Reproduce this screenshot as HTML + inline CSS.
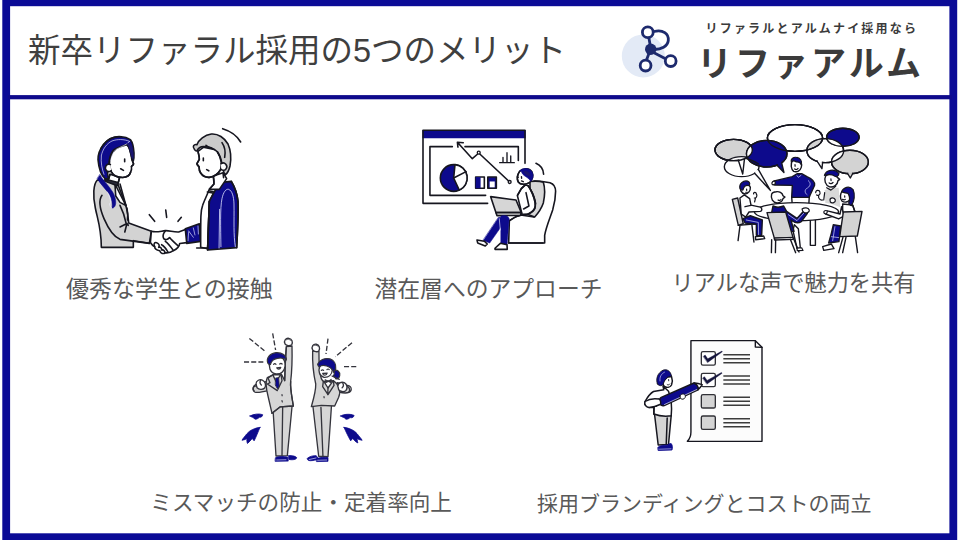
<!DOCTYPE html>
<html lang="ja"><head><meta charset="utf-8"><title>新卒リファラル採用の5つのメリット</title>
<style>
html,body{margin:0;padding:0;background:#fff}
body{width:960px;height:540px;overflow:hidden;position:relative;font-family:"Liberation Sans","Noto Sans CJK JP",sans-serif}
#art{position:absolute;left:0;top:0;width:960px;height:540px;display:block}
.tx{position:absolute;margin:0;padding:0;font-weight:400;line-height:1;white-space:nowrap;color:#595959;overflow:visible;font-family:"Liberation Sans","Noto Sans CJK JP",sans-serif}
</style></head><body>
<svg id="art" width="960" height="540" viewBox="0 0 960 540">
<rect x="0" y="0" width="960" height="540" fill="#fff"/>
<rect x="6.2" y="2.3" width="947.1" height="534.9" fill="#fff" stroke="#0b0b96" stroke-width="7.8"/>
<rect x="8" y="95.1" width="944" height="4.2" fill="#0e0a8c"/>
<g id="texts">
</g>
<g id="logo">
<circle cx="643.3" cy="55.9" r="21.5" fill="#e3eaf6"/>
<g fill="none" stroke="#1d2a6d" stroke-width="2.8" stroke-linecap="round">
<path d="M649,38.5 L650.5,47"/>
<path d="M649.5,52 L646.5,60"/>
<path d="M653.5,52.5 L666,59"/>
<path d="M654,31.5 C663,29 669,34 668.3,40.5 C667.6,46.5 661,49.5 654.5,49.5"/>
<circle cx="647.8" cy="32.2" r="5.4" fill="#fff"/>
<circle cx="645.6" cy="65.6" r="5.4" fill="#fff"/>
<circle cx="670.7" cy="61.1" r="5.4" fill="#fff"/>
</g>
<circle cx="650.7" cy="49.3" r="5.7" fill="#1d2a6d"/>
</g>
<g id="ill1"><g stroke-linecap="round" stroke-linejoin="round" fill="none" stroke="#16161f">
<!-- ===== woman body (view C: origin 80,188 scale 7.5) ===== -->
<g transform="translate(80,188) scale(0.133333)" stroke-width="12">
<path fill="#d3d3d3" d="M130,-60 C100,-30 95,60 115,150 C130,230 160,300 160,445 L400,445 L400,395 L520,415 L535,325 L365,262 C360,200 350,150 340,120 L280,-40 Z"/>
<path d="M165,55 C140,90 150,160 180,230 C210,300 250,365 300,385 L520,415"/>
<path d="M300,292 L352,266 M336,330 L352,266 L362,280 M300,130 C320,170 335,210 345,262 M352,150 C358,180 360,215 356,240"/>
<path fill="#fff" d="M262,-30 L345,132 L300,108 L268,60 Z"/>
<path d="M300,-30 L345,132"/>
<path fill="#0d0a8c" stroke="#0d0a8c" stroke-width="4" d="M150,-100 C170,-60 215,-20 245,30 C262,60 270,90 268,115 C266,138 255,150 240,152 C245,120 240,80 222,50 C200,15 160,-20 130,-70 Z"/>
<path stroke="#eef" stroke-width="5" d="M222,118 C224,135 230,148 240,152 M205,30 C220,55 230,85 230,115"/>
<!-- sparks -->
<path d="M520,200 L560,250 M643,165 L650,220 M760,220 L735,250"/>
<!-- man's sleeve -->
<path fill="#0d0a8c" d="M790,305 L895,268 L905,400 L800,415 Z"/>
<path stroke="#dfe2ff" stroke-width="5" d="M815,330 L810,395 M815,322 L850,370 M850,300 L862,352 M885,285 L888,345"/>
<!-- hands -->
<path fill="#fff" d="M535,325 C570,335 600,325 640,320 C670,318 700,332 740,330 L790,312 L800,410 L748,416 C745,440 720,462 700,470 C685,482 660,488 640,486 C625,497 605,492 598,470 C575,465 560,450 560,440 C540,432 535,418 528,408 Z"/>
<path d="M640,322 C625,340 620,365 628,380 C640,392 660,388 672,372 C690,395 715,415 735,432 M640,400 C655,410 680,440 700,468 M612,425 C625,430 650,460 660,482 M560,440 C548,420 560,405 575,410 C590,415 600,430 590,445 C600,440 615,450 612,465 C625,462 640,472 636,486"/>
</g>
<!-- ===== man body (view D: origin 150,188 scale 7.5) ===== -->
<g transform="translate(150,188) scale(0.133333)" stroke-width="12">
<path fill="#fff" d="M440,20 C425,60 405,100 395,130 C380,170 380,200 380,445 L432,455 L445,100 L480,30 Z"/>
<path d="M350,450 L432,450"/>
<path fill="#0d0a8c" d="M520,-40 L445,100 L432,465 L650,447 C655,350 665,200 660,100 C655,50 640,0 610,-50 Z"/>
<path stroke="#dfe2ff" stroke-width="6" d="M522,160 L518,450 M532,440 C530,300 525,150 540,80 C550,30 570,5 590,10 C615,20 628,60 630,120 C632,250 625,350 640,440"/>
<path d="M610,-50 C640,0 655,50 660,100 C665,200 655,350 650,447 M445,100 L432,465"/>
<path d="M430,30 L470,38"/>
</g>
<!-- ===== woman head (view A: origin 80,125 scale 7.5) ===== -->
<g transform="translate(80,125) scale(0.133333)" stroke-width="12">
<path fill="#fff" d="M225,370 L210,420 L285,440 L297,392 Z"/>
<path d="M225,370 L212,410 M297,392 L288,430"/>
<path fill="#2a2a3a" d="M185,405 L285,432 L280,455 L200,425 Z"/>
<path fill="#fff" d="M350,140 C375,170 385,220 388,255 L402,292 C400,302 392,306 386,310 C388,325 384,345 380,352 C372,380 350,392 320,394 C285,394 250,380 232,348 L220,290 C225,230 250,180 300,160 Z"/>
<path fill="#0d0a8c" d="M190,405 C160,380 140,320 135,260 C135,220 150,180 175,150 C200,115 240,90 285,88 C320,86 355,92 380,112 C395,130 402,165 405,210 C406,235 404,255 400,268 C390,250 382,225 375,195 C370,170 360,152 345,148 C320,160 285,165 255,185 C235,205 225,235 220,265 C215,285 215,300 212,318 C205,345 205,375 215,400 Z"/>
<path stroke="#e8eaff" stroke-width="5" d="M160,230 C170,180 200,140 240,120 C280,105 330,105 370,122 M372,124 C350,150 300,165 268,185 C245,205 235,240 230,270 M160,235 C155,280 165,330 180,370"/>
<path fill="#1a1670" stroke="none" d="M350,140 C370,130 395,150 400,200 C403,230 402,255 398,268 C385,245 378,215 372,190 C368,168 360,150 350,140 Z"/>
<path fill="#fff" d="M228,296 C200,284 178,320 198,342 C208,352 224,350 234,342"/>
<path d="M335,255 L335,276 M305,328 L326,340 M388,255 L402,292 C400,302 392,306 386,310 M380,352 C372,380 350,392 320,394 C285,394 250,380 235,352"/>
<path stroke-width="10" d="M155,178 C175,140 215,100 262,90 C280,86 300,86 312,88"/>
</g>
<!-- ===== man head (view B: origin 150,120 scale 7.5) ===== -->
<g transform="translate(150,120) scale(0.133333)" stroke-width="12">
<path fill="#fff" d="M475,420 L480,480 L445,520 L520,520 L575,440 L548,395 Z"/>
<path d="M475,425 C480,450 482,470 478,482 L445,520 M548,400 L552,432"/>
<path fill="#fff" d="M360,235 C365,260 372,280 370,295 L352,328 C355,340 365,345 368,352 C368,370 372,385 380,398 C395,420 420,432 445,430 C480,425 515,400 530,370 L540,300 L500,225 L400,205 Z"/>
<path fill="#cbcbcb" d="M332,218 C315,200 330,178 352,185 C365,150 410,112 460,105 C510,100 560,135 585,180 C605,225 610,290 600,345 C592,380 580,400 565,412 C555,400 550,385 548,368 C540,360 538,345 540,330 C535,300 525,265 505,238 C480,215 440,200 400,200 C380,200 362,210 352,232 C345,235 338,228 332,218 Z"/>
<path d="M540,170 C560,200 568,240 560,280 M505,238 C520,260 530,290 535,320 M420,190 C430,200 445,210 460,212"/>
<path fill="#fff" d="M532,328 C560,308 590,345 568,370 C558,380 542,378 534,370"/>
<path d="M400,285 L400,306 M425,372 L441,381"/>
<path d="M360,235 C365,260 372,280 370,295 L352,328 C355,340 365,345 368,352 C368,370 372,385 380,398 C395,420 420,432 445,430 C480,425 510,405 528,375"/>
<path d="M545,65 C610,85 655,120 680,165"/>
</g>
</g>
</g>
<g id="ill2"><g stroke-linecap="round" stroke-linejoin="round" fill="none" stroke="#16161f">
<!-- screen (view A: origin 415,122) -->
<g transform="translate(415,122) scale(0.133333)" stroke-width="12">
<path fill="#0d0a8c" stroke="none" d="M56,60 H830 V122 H56 Z"/>
<path d="M60,62 V610 H545 M825,62 V310 M60,62 H825"/>
<path d="M280,185 H112 V550 H530 M375,185 H775 V288"/>
<path d="M710,450 L486,240 M470,240 L430,275 L318,152 M318,152 L362,156 M318,152 L322,188"/>
<circle cx="478" cy="230" r="11" fill="#fff" stroke-width="10"/>
<circle cx="710" cy="450" r="11" fill="#fff" stroke-width="10"/>
<path stroke-width="10" d="M635,305 H745 M660,305 V265 M690,305 V230 M718,305 V255"/>
<circle cx="290" cy="420" r="100" fill="#0d0a8c"/>
<path fill="#fff" d="M290,420 L300,320 A100,100 0 0 1 332,511 Z"/>
<path d="M290,420 L383,372"/>
<path fill="#fff" d="M455,413 H520 V497 H455 Z"/>
<path fill="#0d0a8c" stroke="none" d="M455,413 H492 V497 H455 Z"/>
<path fill="#0d0a8c" d="M546,413 H610 V497 H546 Z"/>
<path fill="#fff" stroke="none" d="M560,446 H598 V490 H560 Z"/>
</g>
<!-- chair + body (view C: origin 490,150) -->
<g transform="translate(490,150) scale(0.133333)" stroke-width="12">
<path fill="#fff" d="M330,232 C370,232 420,238 450,245 C480,255 492,280 492,310 C492,360 485,400 470,450 C450,510 420,580 410,640 L410,697 L140,697 L145,530 C170,510 200,495 230,488 L330,502 Z"/>
<path fill="#d6d6d6" d="M300,236 C340,232 380,235 400,242 C412,280 412,340 400,397 C385,440 360,475 335,502 L280,482 C310,460 340,430 342,400 C335,360 320,320 300,290 Z"/>
<path fill="#fff" d="M262,262 L235,290 L205,340 L240,480 L282,482 C310,470 332,455 336,440 C345,410 335,370 320,330 L300,290 L285,266 Z"/>
<path d="M262,265 L235,290 L208,338 M285,268 L300,290 C320,330 345,380 340,420 C335,450 310,470 285,482"/>
<path d="M270,320 L292,420 L252,442"/>
<path d="M150,528 C175,510 200,495 235,488 L285,483"/>
<!-- laptop -->
<path fill="#d6d6d6" d="M5,350 L195,375 L235,470 L45,470 Z"/>
<path fill="#d6d6d6" d="M45,470 L235,470 L228,490 L52,492 Z"/>
<!-- motion -->
<path d="M345,100 C380,115 400,145 402,182"/>
<!-- head -->
<path fill="#fff" d="M222,160 C205,185 200,215 212,240 C228,262 265,262 295,245 C320,225 328,190 315,165 C300,138 250,130 222,160 Z"/>
<path fill="#0d0a8c" stroke="#0d0a8c" stroke-width="5" d="M222,158 C245,132 290,132 312,160 C328,185 325,215 305,235 C300,220 285,212 270,200 C250,190 238,175 235,160 Z"/>
<path fill="#1a1670" stroke="none" d="M250,160 C270,150 300,165 305,195 C290,200 265,190 250,160 Z"/>
<path stroke-width="10" d="M222,160 C205,185 200,215 212,240 C228,262 265,262 295,245 M236,200 L237,212 M236,232 L250,238 M205,195 L212,205"/>
</g>
<!-- legs (view B: origin 415,190) -->
<g transform="translate(415,190) scale(0.133333)" stroke-width="12">
<path fill="#0d0a8c" stroke="#0d0a8c" stroke-width="4" d="M628,205 L692,210 L560,398 L512,378 Z"/>
<path fill="#0d0a8c" stroke="#0d0a8c" stroke-width="4" d="M645,195 C670,185 700,195 706,215 L690,412 L645,402 Z"/>
<path stroke="#e6e8ff" stroke-width="5" d="M632,215 L640,300"/>
<path fill="#fff" d="M465,375 L520,384 L542,405 L527,420 L470,397 Z"/>
<path fill="#fff" d="M600,437 L640,400 L690,410 L692,445 L600,445 Z"/>
<path d="M700,398 H960"/>
</g>
</g>
</g>
<g id="ill3"><defs>
<clipPath id="cE3"><ellipse cx="463" cy="268" rx="152" ry="100"/></clipPath>
<clipPath id="cE4"><ellipse cx="675" cy="150" rx="207" ry="100"/></clipPath>
<clipPath id="cE5"><ellipse cx="902" cy="245" rx="138" ry="90"/></clipPath>
</defs>
<g stroke-linecap="round" stroke-linejoin="round" fill="none" stroke="#16161f">
<!-- bubbles (view 3A: origin 705,118) -->
<g transform="translate(705,118) scale(0.133333)" stroke-width="10.5">
<ellipse cx="215" cy="240" rx="140" ry="80" fill="#d3d3d3"/>
<ellipse cx="275" cy="365" rx="130" ry="75" fill="#fff"/>
<path fill="#fff" d="M372,415 L490,543 L400,386"/>
<path stroke="#fff" stroke-width="13" stroke-linecap="butt" d="M378,408 L396,394"/>
<ellipse cx="215" cy="240" rx="140" ry="80"/>
<path fill="#fff" d="M250,317 L283,420 L296,306"/>
<path stroke="#fff" stroke-width="13" stroke-linecap="butt" d="M258,314 L290,307"/>
<ellipse cx="675" cy="150" rx="207" ry="100" fill="#fff"/>
<ellipse cx="902" cy="245" rx="138" ry="90" fill="#fff"/>
<ellipse cx="902" cy="245" rx="138" ry="90" fill="#d3d3d3" stroke="none" clip-path="url(#cE4)"/>
<ellipse cx="1034" cy="145" rx="122" ry="68" fill="#0d0a8c"/>
<ellipse cx="1087" cy="330" rx="138" ry="88" fill="#d3d3d3"/>
<ellipse cx="1034" cy="145" rx="122" ry="68" fill="#fff" stroke="none" clip-path="url(#cE5)"/>
<ellipse cx="1087" cy="330" rx="138" ry="88" fill="#fff" stroke="none" clip-path="url(#cE5)"/>
<ellipse cx="1034" cy="145" rx="122" ry="68"/>
<ellipse cx="1087" cy="330" rx="138" ry="88"/>
<ellipse cx="902" cy="245" rx="138" ry="90"/>
<ellipse cx="675" cy="150" rx="207" ry="100"/>
<path fill="#fff" d="M842,326 L877,380 L882,334"/>
<path stroke="#fff" stroke-width="13" stroke-linecap="butt" d="M849,323 L876,328"/>
<path fill="#d3d3d3" d="M1070,417 L1090,450 L1108,416"/>
<path stroke="#d3d3d3" stroke-width="13" stroke-linecap="butt" d="M1077,413 L1102,412"/>
<ellipse cx="463" cy="268" rx="152" ry="100" fill="#0d0a8c"/>
<ellipse cx="215" cy="240" rx="140" ry="80" fill="#fff" stroke="none" clip-path="url(#cE3)"/>
<ellipse cx="215" cy="240" rx="140" ry="80"/>
<ellipse cx="675" cy="150" rx="207" ry="100"/>
<ellipse cx="463" cy="268" rx="152" ry="100"/>
<path fill="#0d0a8c" d="M540,354 L592,408 L575,336"/>
<path stroke="#0d0a8c" stroke-width="13" stroke-linecap="butt" d="M546,346 L570,333"/>
<path d="M302,300 C330,310 370,325 402,345"/>
<!-- standing man -->
<path fill="#fff" d="M650,590 L782,590 L778,660 L655,660 Z"/>
<path fill="#fff" d="M655,320 C640,345 645,385 665,400 C690,410 715,395 722,370 C730,345 720,320 700,310 Z"/>
<path fill="#0d0a8c" stroke-width="9" d="M648,330 C640,305 665,290 690,296 C715,300 730,325 722,350 C715,335 700,328 685,330 C670,318 655,322 648,330 Z"/>
<path stroke-width="9" d="M675,350 L676,362 M672,382 C680,388 692,386 698,378"/>
<path fill="#0d0a8c" d="M690,418 L655,440 L520,472 C505,478 505,498 520,502 L655,505 L650,595 L782,595 C790,570 805,545 822,505 C825,480 800,455 765,440 L725,418 Z"/>
<path stroke="#dfe2ff" stroke-width="5" d="M775,470 C800,490 790,515 760,530 C745,545 750,565 765,575 M720,430 L700,445 L690,432"/>
<path fill="#fff" stroke-width="9" d="M522,472 C500,475 495,495 510,502 C520,500 530,495 528,485 Z"/>
</g>
<!-- bottom-left (view 3C: origin 705,180) -->
<g transform="translate(705,180) scale(0.133333)" stroke-width="10.5">
<!-- left chair -->
<path fill="#d3d3d3" d="M205,145 L245,135 L287,328 L250,340 Z"/>
<path d="M250,340 L385,328 M262,345 L248,455 M352,338 L367,465"/>
<!-- left person legs -->
<path fill="#0d0a8c" d="M285,290 L340,268 L430,300 L425,415 L385,415 L385,332 L300,322 Z"/>
<path stroke="#dfe2ff" stroke-width="5" d="M310,300 L400,318 L402,410"/>
<path fill="#fff" d="M378,425 L440,420 L448,440 L380,448 Z"/>
<!-- table -->
<path fill="#fff" d="M790,300 V490 H828 V300"/>
<ellipse cx="686" cy="238" rx="316" ry="68" fill="#fff"/>
<!-- left person torso -->
<path fill="#fff" d="M262,135 L295,112 L335,140 L345,188 L415,203 C430,210 430,232 415,235 L330,240 L305,278 L272,255 Z"/>
<path d="M345,190 L300,200"/>
<path fill="#fff" d="M268,40 C258,70 270,100 300,105 C325,105 342,80 340,55 C335,30 290,15 268,40 Z"/>
<path fill="#0d0a8c" stroke-width="9" d="M262,60 C255,30 285,0 320,8 C340,15 340,40 325,42 C310,35 290,45 285,75 C275,78 265,72 262,60 Z"/>
<path stroke-width="9" d="M312,68 L313,78 M305,92 L318,92"/>
<path stroke-width="9" d="M365,105 C360,90 385,88 385,105 C395,115 385,140 370,135 M378,140 L372,165"/>
<!-- right-back person (gray shirt) hands & standing man pants already -->
<!-- front person -->
<path fill="#fff" d="M670,335 L700,365 L715,510 L690,512 L660,380 Z"/>
<path fill="#fff" d="M500,105 C490,140 510,170 540,172 C560,172 580,160 585,140 L600,128 L585,118 C580,95 555,85 535,88 C520,88 505,95 500,105 Z"/>
<path stroke-width="9" d="M548,150 C556,156 566,154 570,146"/>
<path fill="#0d0a8c" d="M510,195 C530,205 565,205 590,195 L612,235 L690,288 L735,238 L768,250 L722,312 C700,325 670,320 645,300 L668,385 L610,385 L560,245 L500,245 Z"/>
<path stroke="#dfe2ff" stroke-width="5" d="M625,260 L690,305 L740,250"/>
<path fill="#fff" stroke-width="9" d="M728,218 C745,205 775,205 782,225 C785,240 765,250 745,246 C735,240 728,230 728,218 Z"/>
<path fill="#d3d3d3" d="M465,245 L605,240 L660,430 L520,436 Z"/>
<path fill="#fff" d="M520,436 L660,430 L662,445 L522,450 Z"/>
<path d="M500,448 L498,545 M530,450 L528,545 M640,445 L680,545 M665,440 L705,540"/>
<path fill="#fff" stroke-width="9" d="M690,512 L725,508 L735,528 L692,530 Z"/>
</g>
<!-- bottom-right (view 3D: origin 800,180) -->
<g transform="translate(800,180) scale(0.133333)" stroke-width="10.5">
<!-- gray shirt person -->
<path fill="#d8d8d8" stroke="none" d="M185,75 L235,62 L290,58 L302,205 L240,180 L190,172 Z"/>
<path fill="#fff" d="M192,-30 C178,0 190,40 222,52 C255,58 282,35 285,5 L298,-5 L282,-18 C270,-45 215,-55 192,-30 Z"/>
<path fill="#0d0a8c" stroke-width="9" d="M183,-35 C195,-75 255,-90 292,-50 C290,-30 275,-22 262,-28 C240,-45 205,-40 183,-35 Z"/>
<path stroke-width="9" d="M232,-8 L233,4 M218,22 C226,30 242,28 248,18 M200,58 L232,76 L268,48"/>
<path stroke-width="9" fill="#fff" d="M118,95 C115,75 145,72 150,92 C155,110 135,120 125,112 M140,118 C135,135 150,155 170,150"/>
<path stroke-width="9" fill="#fff" d="M225,150 C225,130 260,128 265,150 C268,170 240,178 228,165 Z"/>
<path stroke-width="9" d="M185,95 L178,150"/>
<!-- right woman -->
<path fill="#fff" d="M320,180 L395,188 L412,238 L320,245 Z"/>
<path fill="#fff" d="M318,85 C300,100 298,140 315,158 C335,172 360,165 372,150 L375,95 Z"/>
<path fill="#0d0a8c" stroke-width="9" d="M312,88 C325,55 370,40 398,72 C415,110 408,160 385,192 C375,188 368,180 365,172 C375,150 372,120 360,100 C345,98 325,95 312,88 Z"/>
<path stroke-width="9" d="M335,118 L336,128 M318,145 C325,150 335,150 340,145"/>
<path fill="#fff" d="M312,200 L300,255 L205,232 C190,228 180,245 192,255 L290,292 L330,270 Z"/>
<path fill="#fff" stroke-width="9" d="M205,232 C185,222 170,240 185,252 C195,258 205,250 205,232 Z"/>
<!-- legs -->
<path fill="#0d0a8c" d="M250,335 L305,345 L292,462 L215,472 L235,400 Z"/>
<path stroke="#dfe2ff" stroke-width="5" d="M262,350 L245,455 M235,425 L290,432"/>
<path fill="#fff" d="M170,500 L235,480 L255,515 L178,528 Z"/>
<!-- chair -->
<path fill="#d3d3d3" d="M325,240 L465,235 L430,420 L298,425 Z"/>
<path d="M322,430 L290,545 M345,430 L320,545 M415,425 L432,545"/>
<path d="M395,190 L410,232"/>
</g>
</g>
</g>
<g id="ill4"><g stroke-linecap="round" stroke-linejoin="round" fill="none" stroke="#34343c">
<!-- legs (view 4B: origin 236,396) -->
<g transform="translate(236,396) scale(0.133333)" stroke-width="10">
<path fill="#d6d6d6" d="M275,60 L300,450 L385,447 L422,60 Z"/>
<path d="M350,85 L345,447"/>
<path fill="#d6d6d6" d="M575,60 L620,452 L690,455 L717,60 Z"/>
<path d="M637,85 L652,452"/>
<g fill="#0d0a8c" stroke="#0d0a8c" stroke-width="6">
<path d="M298,462 C320,452 360,452 386,458 L392,488 L296,490 Z"/>
<path d="M395,447 C420,445 450,452 456,464 C452,476 425,482 398,476 Z"/>
<path d="M534,468 C550,452 585,445 602,448 L618,470 C590,485 560,488 545,484 Z"/>
<path d="M602,472 C630,458 670,458 690,462 L690,490 L606,492 Z"/>
<path d="M105,150 C130,135 175,130 200,140 C198,155 190,160 175,160 C165,170 150,178 140,172 C135,160 115,160 105,150 Z"/>
<path d="M180,235 C140,240 100,258 80,285 C65,305 50,320 45,332 C60,330 72,325 82,318 C80,335 82,348 86,356 C100,345 112,330 122,318 C128,326 132,332 136,336 C150,310 165,270 180,235 Z"/>
<path d="M785,150 C805,135 860,132 886,146 C882,160 870,166 855,162 C845,172 830,178 822,172 C815,160 795,160 785,150 Z"/>
<path d="M810,235 C850,240 890,258 910,285 C925,305 940,320 946,332 C930,330 918,325 908,318 C910,335 912,345 914,352 C898,345 885,330 875,318 C868,326 864,332 860,336 C845,310 825,270 810,235 Z"/>
</g>
<path stroke="#dfe2ff" stroke-width="5" d="M305,480 L375,478 M550,476 L600,465 M612,482 L680,480"/>
</g>
<!-- upper bodies (view 4A: origin 236,328) -->
<g transform="translate(236,328) scale(0.133333)" stroke-width="10">
<!-- rays -->
<path stroke-dasharray="38 16" stroke-linecap="butt" d="M100,78 L225,180 M275,40 L297,165 M60,255 L205,255 M690,80 L675,195 M870,110 L745,215 M810,290 L915,290"/>
<!-- man left arm/fist -->
<path fill="#d6d6d6" d="M240,470 C200,480 160,490 140,480 C125,470 125,450 135,440 L230,400 Z"/>
<!-- man body -->
<path fill="#d6d6d6" d="M365,395 C368,300 372,200 378,140 L420,135 C422,220 420,320 410,400 C405,450 420,520 430,585 L330,592 L270,640 L240,510 C225,450 220,400 235,372 L290,345 L340,345 Z"/>
<path d="M410,400 C405,450 420,520 430,585 L330,592 L270,640 M365,395 C368,300 372,200 378,140"/>
<path fill="#fff" d="M275,350 L300,400 L335,352 Z"/>
<path fill="#0d0a8c" stroke-width="6" d="M298,375 L320,372 L325,440 L310,455 L296,430 Z"/>
<path d="M270,355 L240,375 L255,410 L235,420 L310,470 M338,350 L345,395 L315,460"/>
<path stroke-width="9" d="M345,545 L347,555 M345,500 L346,508"/>
<!-- man head -->
<path fill="#fff" d="M255,250 C240,290 255,335 300,345 C340,348 365,320 368,285 C370,255 360,230 340,220 L275,225 Z"/>
<path fill="#0d0a8c" stroke-width="9" d="M238,262 C225,225 255,190 300,185 C345,182 380,205 378,240 C360,225 335,222 310,228 C285,232 265,245 258,275 C250,275 242,270 238,262 Z"/>
<path stroke-width="9" d="M282,272 C287,266 295,266 300,272 M328,270 C333,264 341,264 346,270 M305,298 C312,312 330,312 336,296 Z"/>
<!-- fists man -->
<path fill="#fff" stroke-width="10" d="M368,120 C355,95 375,72 398,78 C420,82 428,105 418,125 C405,135 380,135 368,120 Z"/>
<path stroke-width="6" d="M378,88 C388,82 400,84 408,92"/>
<path fill="#fff" stroke-width="10" d="M150,420 C150,395 180,380 200,392 C220,400 228,430 215,450 C200,465 170,462 158,448 Z"/>
<path stroke-width="10" d="M150,425 C130,430 122,455 135,470 M185,392 C178,405 180,420 190,428"/>
<!-- woman -->
<path fill="#d6d6d6" d="M770,480 C810,490 850,490 862,470 C868,455 860,440 850,435 L760,410 Z"/>
<path fill="#d6d6d6" d="M575,172 L622,176 C622,250 625,320 635,360 C640,385 650,398 660,402 L730,395 C770,420 790,470 770,520 L740,585 L640,580 L565,590 C585,520 600,470 598,420 C580,340 572,250 575,172 Z"/>
<path fill="#fff" d="M660,402 L690,450 L728,396 Z"/>
<path d="M655,400 L650,440 L690,500 L735,430 L730,396 M690,450 L688,500"/>
<path fill="#34343c" stroke-width="6" d="M670,388 L692,398 L715,385 L712,410 L692,402 L672,412 Z"/>
<path stroke-width="9" d="M660,515 L661,523"/>
<!-- woman head -->
<path fill="#fff" d="M628,290 C615,320 625,360 660,370 C695,372 720,350 722,315 L700,270 L650,265 Z"/>
<path fill="#0d0a8c" stroke-width="9" d="M612,272 C625,240 665,222 705,232 C735,240 752,270 748,305 C745,320 740,328 735,335 C725,310 705,292 680,285 C660,278 640,278 625,292 C618,288 613,280 612,272 Z"/>
<path fill="#0d0a8c" stroke-width="9" d="M738,318 C760,312 782,330 778,355 C776,372 765,385 750,382 C745,372 738,365 728,362 C738,350 740,335 738,318 Z"/>
<path stroke-width="9" d="M640,318 C645,312 652,312 657,318 M682,312 C687,306 694,306 699,312 M650,340 C655,358 678,358 684,338 Z M720,360 L775,385"/>
<path fill="#fff" stroke-width="10" d="M575,165 C562,140 580,118 602,122 C625,126 632,150 622,170 C610,182 588,180 575,165 Z"/>
<path stroke-width="6" d="M584,132 C594,126 606,128 614,136"/>
<path fill="#fff" stroke-width="10" d="M765,440 C760,415 790,400 812,410 C832,420 840,450 825,468 C810,482 780,478 770,462 Z"/>
<path stroke-width="10" d="M835,440 C852,445 858,468 845,482 M800,412 C808,425 806,440 796,448"/>
</g>
</g>
</g>
<g id="ill5"><g stroke-linecap="round" stroke-linejoin="round" fill="none" stroke="#16161f">
<!-- paper (view 5A: origin 636,332) -->
<g transform="translate(636,332) scale(0.133333)" stroke-width="10.5">
<path fill="#fcfcfc" d="M412,65 H895 L945,115 V820 H385 C405,800 412,780 412,750 Z"/>
<path d="M895,65 V112 L945,115"/>
<g stroke="#303036" stroke-width="10">
<rect x="490" y="147" width="105" height="102" rx="12" fill="#fff"/>
<rect x="490" y="310" width="105" height="100" rx="12" fill="#fff"/>
<rect x="490" y="470" width="105" height="100" rx="12" fill="#d4d4d4"/>
<rect x="490" y="630" width="105" height="100" rx="12" fill="#d4d4d4"/>
</g>
<path stroke="#3c3c3c" stroke-width="11" stroke-linecap="butt" d="M655,170 H855 M655,200 H855 M655,230 H855 M655,330 H855 M655,360 H855 M655,390 H855 M655,490 H855 M655,520 H855 M655,550 H855 M655,650 H855 M655,680 H855 M655,710 H855"/>
<path fill="#14143c" stroke="#14143c" stroke-width="3" d="M505.5,182.7 L518.5,173.3 L538,201 L644.5,143.4 L647.5,148.6 L538,228 Z"/>
<path fill="#14143c" stroke="#14143c" stroke-width="3" d="M500.5,344.7 L513.5,335.3 L533,363 L641,303.4 L646,309 L533,390 Z"/>
</g>
<!-- person (view 5C: origin 630,366 scale 10) -->
<g transform="translate(630,366) scale(0.1)" stroke-width="15">
<!-- pants -->
<path fill="#d4d4d4" d="M245,480 L282,790 L385,785 L412,495 Z"/>
<path d="M372,520 L362,785"/>
<path fill="#0d0a8c" stroke="#0d0a8c" stroke-width="8" d="M280,812 C300,795 340,790 372,792 C385,780 400,772 412,776 C425,790 428,820 420,840 L285,845 Z"/>
<path stroke="#dfe2ff" stroke-width="6" d="M295,832 L410,828"/>
<!-- torso -->
<path fill="#fff" d="M330,200 L338,238 L235,255 C200,275 170,320 150,355 C140,385 160,410 190,415 L240,412 L238,480 C290,500 360,505 412,498 C420,420 415,330 385,252 Z"/>
<path d="M238,480 L240,412 M290,330 C270,350 260,380 265,400"/>
<!-- head -->
<path fill="#fff" d="M335,150 L378,108 L415,104 C425,130 425,165 415,190 C405,212 375,218 350,208 C335,200 325,180 335,150 Z"/>
<path fill="#0d0a8c" stroke-width="9" d="M275,180 C255,130 275,70 330,42 C370,28 405,50 415,100 C400,108 385,110 375,112 C360,125 345,145 340,160 C335,175 330,190 318,195 C300,200 285,195 275,180 Z"/>
<path stroke="#dfe2ff" stroke-width="6" d="M300,150 C295,110 310,80 345,62"/>
<path stroke-width="9" d="M386,135 L387,148 M372,186 C380,192 392,190 398,180"/>
<!-- pen -->
<path fill="#0d0a8c" d="M298,335 C300,322 305,318 312,314 L640,170 L692,200 L680,238 L342,396 C325,400 305,392 300,378 Z"/>
<path fill="#fff" d="M640,170 C665,168 700,178 722,186 C710,205 695,225 680,238 C690,215 672,185 640,170 Z"/>
<path stroke="#dfe2ff" stroke-width="7" d="M345,385 L668,235"/>
<path fill="#fff" stroke-width="10" d="M500,300 C505,280 535,272 550,288 C560,305 550,328 530,332 C512,335 498,320 500,300 Z"/>
<path fill="#fff" d="M190,415 C160,410 140,385 150,355 C180,335 230,320 290,330 C310,345 312,375 300,385 C270,400 230,412 190,415 Z"/>
</g>
</g>
</g>
</svg>
<h1 class="tx t0" style="left:28.0px;top:35.0px;font-size:32.5px;width:537.2px;color:#3f3f3f">新卒リファラル採用の5つのメリット</h1>
<p class="tx t1" style="left:66.0px;top:278.4px;font-size:23px;width:209.5px">優秀な学生との接触</p>
<p class="tx t2" style="left:374.5px;top:277.9px;font-size:22.8px;width:229.5px">潜在層へのアプローチ</p>
<p class="tx t3" style="left:671.6px;top:273.3px;font-size:22.2px;width:246.6px">リアルな声で魅力を共有</p>
<p class="tx t4" style="left:150.3px;top:492.3px;font-size:21.6px;width:303.4px">ミスマッチの防止・定着率向上</p>
<p class="tx t5" style="left:537.0px;top:492.7px;font-size:21px;width:339.0px">採用ブランディングとコストの両立</p>
<p class="tx" style="left:705.5px;top:22.8px;font-size:12px;width:220px;font-weight:700;letter-spacing:2.2px;color:#3b3b3b">リファラルとアルムナイ採用なら</p>
<p class="tx" style="left:697px;top:46.2px;font-size:35px;width:230px;font-weight:700;letter-spacing:3px;color:#3b3b3b">リファアルム</p>
</body></html>
